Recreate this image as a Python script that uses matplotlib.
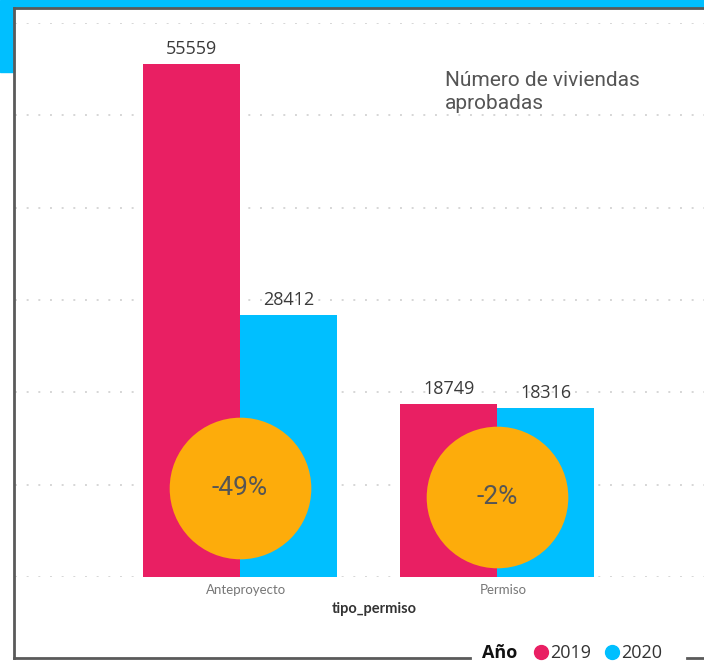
import matplotlib
matplotlib.use("Agg")
import matplotlib.pyplot as plt
import matplotlib.transforms as mtransforms
from matplotlib.patches import Rectangle
from matplotlib.lines import Line2D
import numpy as np

# data
categories = ["Anteproyecto", "Permiso"]
years = ["2019", "2020"]
values_2019 = [55559, 18749]
values_2020 = [28412, 18316]
colors = ["#E91F63", "#00BFFF"]
circle_color = "#FDAC0B"

W, H = 704, 664
fig = plt.figure(figsize=(W / 100, H / 100), dpi=100)


def fx(px):
    return px / W


def fy(py):
    return 1 - py / H


# frame decoration (blue strip + dark border)
fig.patches.append(Rectangle((0, fy(8)), 1, 8 / H, transform=fig.transFigure,
                             color="#00BFFF", zorder=0))
fig.patches.append(Rectangle((0, fy(72)), fx(14), 64 / H, transform=fig.transFigure,
                             color="#00BFFF", zorder=0))
for xs, ys in [([fx(14), 1], [fy(8), fy(8)]),
               ([fx(14), fx(14)], [fy(8), fy(658)]),
               ([fx(14), fx(470)], [fy(658), fy(658)]),
               ([fx(687), 1], [fy(658), fy(658)])]:
    fig.lines.append(Line2D(xs, ys, transform=fig.transFigure, color="#5a5a5a", lw=2))

ax = fig.add_axes([fx(15), fy(577), fx(704) - fx(15), fy(23) - fy(577)])
ax.set_facecolor("none")

x = np.arange(len(categories))
width = 0.377
series = [values_2019, values_2020]
for i, (vals, col) in enumerate(zip(series, colors)):
    pos = x + (i - 0.5) * width
    ax.bar(pos, vals, width=width, color=col, zorder=2)
    for p, v in zip(pos, vals):
        ax.annotate(str(v), (p, v), xytext=(0, 4), textcoords="offset points",
                    ha="center", va="bottom", fontsize=13, color="#3a3a3a",
                    family="Open Sans", zorder=4)

ax.set_xlim(-0.8755, 1.805)
ax.set_ylim(0, 60000)
ax.set_yticks(np.arange(0, 60001, 10000))
ax.yaxis.grid(True, linestyle=(0, (1, 5)), color="#d6d6d6", lw=1.4, zorder=0)
ax.tick_params(left=False, labelleft=False, bottom=False, labelbottom=False)
for s in ax.spines.values():
    s.set_visible(False)

# change circles
change = [round((b - a) / a * 100) for a, b in zip(values_2019, values_2020)]
circle_y = [0.161, 0.145]
blend = mtransforms.blended_transform_factory(ax.transData, ax.transAxes)
for xi, c, cy in zip(x, change, circle_y):
    ax.scatter([xi], [cy], s=10400, color=circle_color, transform=blend,
               zorder=3, linewidths=0, clip_on=False)
    ax.text(xi, cy, f"{c}%", transform=blend, ha="center", va="center",
            fontsize=19, color="#555555", family="Roboto", zorder=4)

# category labels
lab_tr = mtransforms.offset_copy(blend, fig=fig, x=6, y=0, units="dots")
for xi, cat in zip(x, categories):
    ax.text(xi, -13 / 554, cat, transform=lab_tr, ha="center", va="center",
            fontsize=9.5, color="#777777", family="Lato")

fig.text(fx(374), fy(609), "tipo_permiso", ha="center", va="center",
         fontsize=10.5, fontweight="bold", color="#333333", family="Lato")

for line, base in [("Número de viviendas", 86), ("aprobadas", 109)]:
    fig.text(fx(445), fy(base), line, ha="left", va="baseline",
             fontsize=15, color="#555555", family="Roboto")

# legend
fig.text(fx(482), fy(658), "Año", ha="left", va="baseline", fontsize=13,
         fontweight="bold", color="#111111", family="Open Sans")
for yr, col, mx in zip(years, colors, [541, 612]):
    fig.lines.append(Line2D([fx(mx)], [fy(652)], transform=fig.transFigure,
                            marker="o", markersize=10, color=col, lw=0))
    fig.text(fx(mx + 9), fy(658), yr, ha="left", va="baseline", fontsize=13,
             color="#333333", family="Open Sans")

fig.savefig("out.png", dpi=100)
